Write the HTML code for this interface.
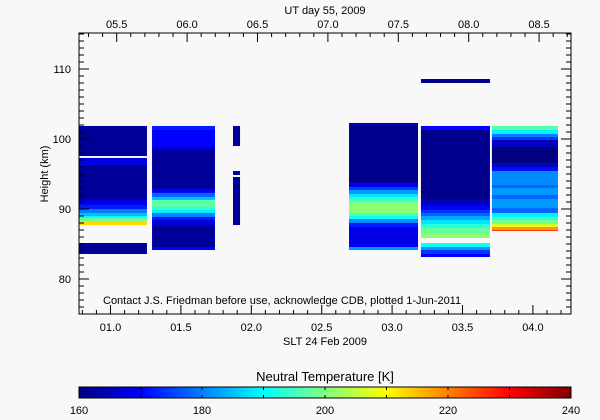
<!DOCTYPE html>
<html><head><meta charset="utf-8">
<style>
html,body{margin:0;padding:0;background:#f8f8f8;}
svg{display:block;font-family:"Liberation Sans",sans-serif;}
</style></head>
<body>
<svg id="chart" width="600" height="420" viewBox="0 0 600 420" xmlns="http://www.w3.org/2000/svg">
<rect x="0" y="0" width="600" height="420" fill="#f8f8f8"/>
<g id="cells"></g>
<g id="axes"></g>
<g id="cbar"></g>
</svg>
<script>
// ---- data ----
const sltTicks = [1.0,1.5,2.0,2.5,3.0,3.5,4.0];
const sltLabels = ["01.0","01.5","02.0","02.5","03.0","03.5","04.0"];
const utTicks = [5.5,6.0,6.5,7.0,7.5,8.0,8.5];
const utLabels = ["05.5","06.0","06.5","07.0","07.5","08.0","08.5"];
const heightTicks = [80,90,100,110];
const cbarTicks = [160,180,200,220,240];
const columnStart = [0.776,1.295,1.870,2.694,3.205,3.709];
const columnEnd   = [1.259,1.742,1.920,3.184,3.695,4.178];
// rows per column: [topKm, bottomKm, temperatureK]
const col1 = [[101.86,97.57,162],[97.29,96.29,168],[96.29,91.29,162],[91.29,90.57,168],[90.57,90.0,172],[90.0,89.43,180],[89.43,89.0,185],[89.0,88.71,190],[88.71,88.29,198],[88.29,87.71,213],[85.14,83.57,162]];
const col2 = [[101.86,101.29,172],[101.29,99.14,170],[99.14,98.57,168],[98.57,92.86,162],[92.86,92.29,170],[92.29,91.71,178],[91.71,91.29,185],[91.29,90.29,197],[90.29,89.86,194],[89.86,89.43,189],[89.43,88.86,180],[88.86,88.43,172],[88.43,87.71,167],[87.71,84.57,162],[84.57,84.14,170]];
const col3 = [[101.86,99.0,162],[95.43,94.86,162],[94.57,87.71,162]];
const col4 = [[102.29,101.86,164],[101.86,93.71,161],[93.71,93.14,169],[93.14,92.71,175],[92.71,92.14,182],[92.14,91.71,188],[91.71,91.29,193],[91.29,90.86,197],[90.86,89.43,201],[89.43,89.0,196],[89.0,88.57,191],[88.57,88.0,181],[88.0,87.43,172],[87.43,85.0,168],[85.0,84.57,170],[84.57,84.14,182]];
const col5 = [[108.57,108.0,161],[101.86,101.29,170],[101.29,91.29,161],[91.29,90.43,165],[90.43,89.86,170],[89.86,89.43,174],[89.43,89.0,178],[89.0,88.43,183],[88.43,87.86,188],[87.86,87.29,193],[87.29,86.43,198],[86.43,85.86,201],[85.14,84.57,191],[84.57,84.14,182],[84.14,83.57,174],[83.57,83.14,170]];
const col6 = [[101.86,101.29,197],[101.29,100.71,189],[100.71,100.29,180],[100.29,99.86,174],[99.86,98.86,165],[98.86,96.57,160],[96.57,96.0,165],[96.0,95.43,171],[95.43,93.43,181],[93.43,93.0,178],[93.0,92.0,182],[92.0,91.43,178],[91.43,90.14,182],[90.14,89.43,178],[89.43,88.86,189],[88.86,88.43,194],[88.43,87.86,199],[87.86,87.43,207],[87.43,87.0,218],[87.0,86.86,226]];
const columns = [col1,col2,col3,col4,col5,col6];

// ---- scales ----
const X0=79, X1=571, Y0=33, Y1=314;
const xS = s => 110.5 + (s-1.0)*140.8;
const xU = u => 116.7 + (u-5.5)*140.8;
const yH = h => 314 - (h-75)*7;
const cMin=160, cMax=240, CB0=79, CB1=571;
const xC = t => CB0 + (t-cMin)/(cMax-cMin)*(CB1-CB0);

function jet(t){
  let v=(t-cMin)/(cMax-cMin); v=Math.max(0,Math.min(1,v));
  const f=(x)=>Math.max(0,Math.min(1,x));
  const r=f(Math.min(4*v-1.5,-4*v+4.5));
  const g=f(Math.min(4*v-0.5,-4*v+3.5));
  const b=f(Math.min(4*v+0.5,-4*v+2.5));
  return `rgb(${Math.round(r*255)},${Math.round(g*255)},${Math.round(b*255)})`;
}
const NS="http://www.w3.org/2000/svg";
function mk(tag,attrs,parent){const e=document.createElementNS(NS,tag);for(const k in attrs)e.setAttribute(k,attrs[k]);parent.appendChild(e);return e;}

// ---- heatmap ----
const cells=document.getElementById('cells');
columns.forEach((col,i)=>{
  const xa=xS(columnStart[i]), xb=xS(columnEnd[i]);
  col.forEach(r=>{
    const ya=yH(r[0]), yb=yH(r[1]);
    const el=mk('rect',{x:xa,y:ya,width:xb-xa,height:yb-ya,fill:jet(r[2])},cells);
    
    
  });
});

// ---- axes ----
const ax=document.getElementById('axes');
const frame=mk('rect',{x:X0,y:Y0,width:X1-X0,height:Y1-Y0,fill:'none',stroke:'#000','stroke-width':1},ax);


for(let s=0.8;s<=4.3;s+=0.1){const sv=Math.round(s*10)/10;const x=xS(sv);if(x<X0||x>X1)continue;const major=Math.abs(sv*2-Math.round(sv*2))<1e-6;
  mk('line',{x1:x,x2:x,y1:Y1,y2:Y1-(major?9:4),stroke:'#000'},ax);}
for(let u=5.2;u<=8.7;u+=0.1){const uv=Math.round(u*10)/10;const x=xU(uv);if(x<X0||x>X1)continue;const major=Math.abs(uv*2-Math.round(uv*2))<1e-6;
  mk('line',{x1:x,x2:x,y1:Y0,y2:Y0+(major?9:4),stroke:'#000'},ax);}
for(let h=75;h<=115;h++){const y=yH(h);if(y<Y0-0.5)continue;const major=h%10==0;
  mk('line',{x1:X0,x2:X0+(major?10:5),y1:y,y2:y,stroke:'#000'},ax);
  mk('line',{x1:X1,x2:X1-(major?10:5),y1:y,y2:y,stroke:'#000'},ax);}
sltTicks.forEach((s,i)=>{const t=mk('text',{x:xS(s),y:331,'text-anchor':'middle','font-size':11},ax);t.textContent=sltLabels[i];
  });
utTicks.forEach((u,i)=>{const t=mk('text',{x:xU(u),y:28,'text-anchor':'middle','font-size':11},ax);t.textContent=utLabels[i];
  });
heightTicks.forEach(h=>{const t=mk('text',{x:71,y:yH(h)+4,'text-anchor':'end','font-size':11},ax);t.textContent=String(h);
  });
</script>
<script>
const ax2=document.getElementById('axes');
function txt(s,attrs,name){const t=mk('text',attrs,ax2);t.textContent=s;return t;}
txt('UT day 55, 2009',{x:325,y:14,'text-anchor':'middle','font-size':11},'top-axis-title');
txt('SLT 24 Feb 2009',{x:325,y:345,'text-anchor':'middle','font-size':11},'x-axis-title');
txt('Height (km)',{x:48,y:174,'text-anchor':'middle','font-size':11,transform:'rotate(-90 48 174)'},'y-axis-title');
txt('Contact J.S. Friedman before use, acknowledge CDB, plotted 1-Jun-2011',{x:103,y:304,'font-size':11},'credit-note');
const cb=document.getElementById('cbar');
const defs=mk('defs',{},cb);
const lg=mk('linearGradient',{id:'jetg',x1:0,x2:1,y1:0,y2:0},defs);
for(let i=0;i<=16;i++){const t=cMin+(cMax-cMin)*i/16;mk('stop',{offset:(i/16),'stop-color':jet(t)},lg);}
const bar=mk('rect',{x:CB0,y:387,width:CB1-CB0,height:11,fill:'url(#jetg)',stroke:'#000','stroke-width':1},cb);


for(let t=170;t<240;t+=10){const x=xC(t);mk('line',{x1:x,x2:x,y1:387,y2:390,stroke:'#000'},cb);mk('line',{x1:x,x2:x,y1:395,y2:398,stroke:'#000'},cb);}
cbarTicks.forEach(t=>{const e=mk('text',{x:xC(t),y:414,'text-anchor':'middle','font-size':11},cb);e.textContent=String(t);
  });
const ct=mk('text',{x:325,y:381,'text-anchor':'middle','font-size':13},cb);ct.textContent='Neutral Temperature [K]';


</script>
</body></html>
